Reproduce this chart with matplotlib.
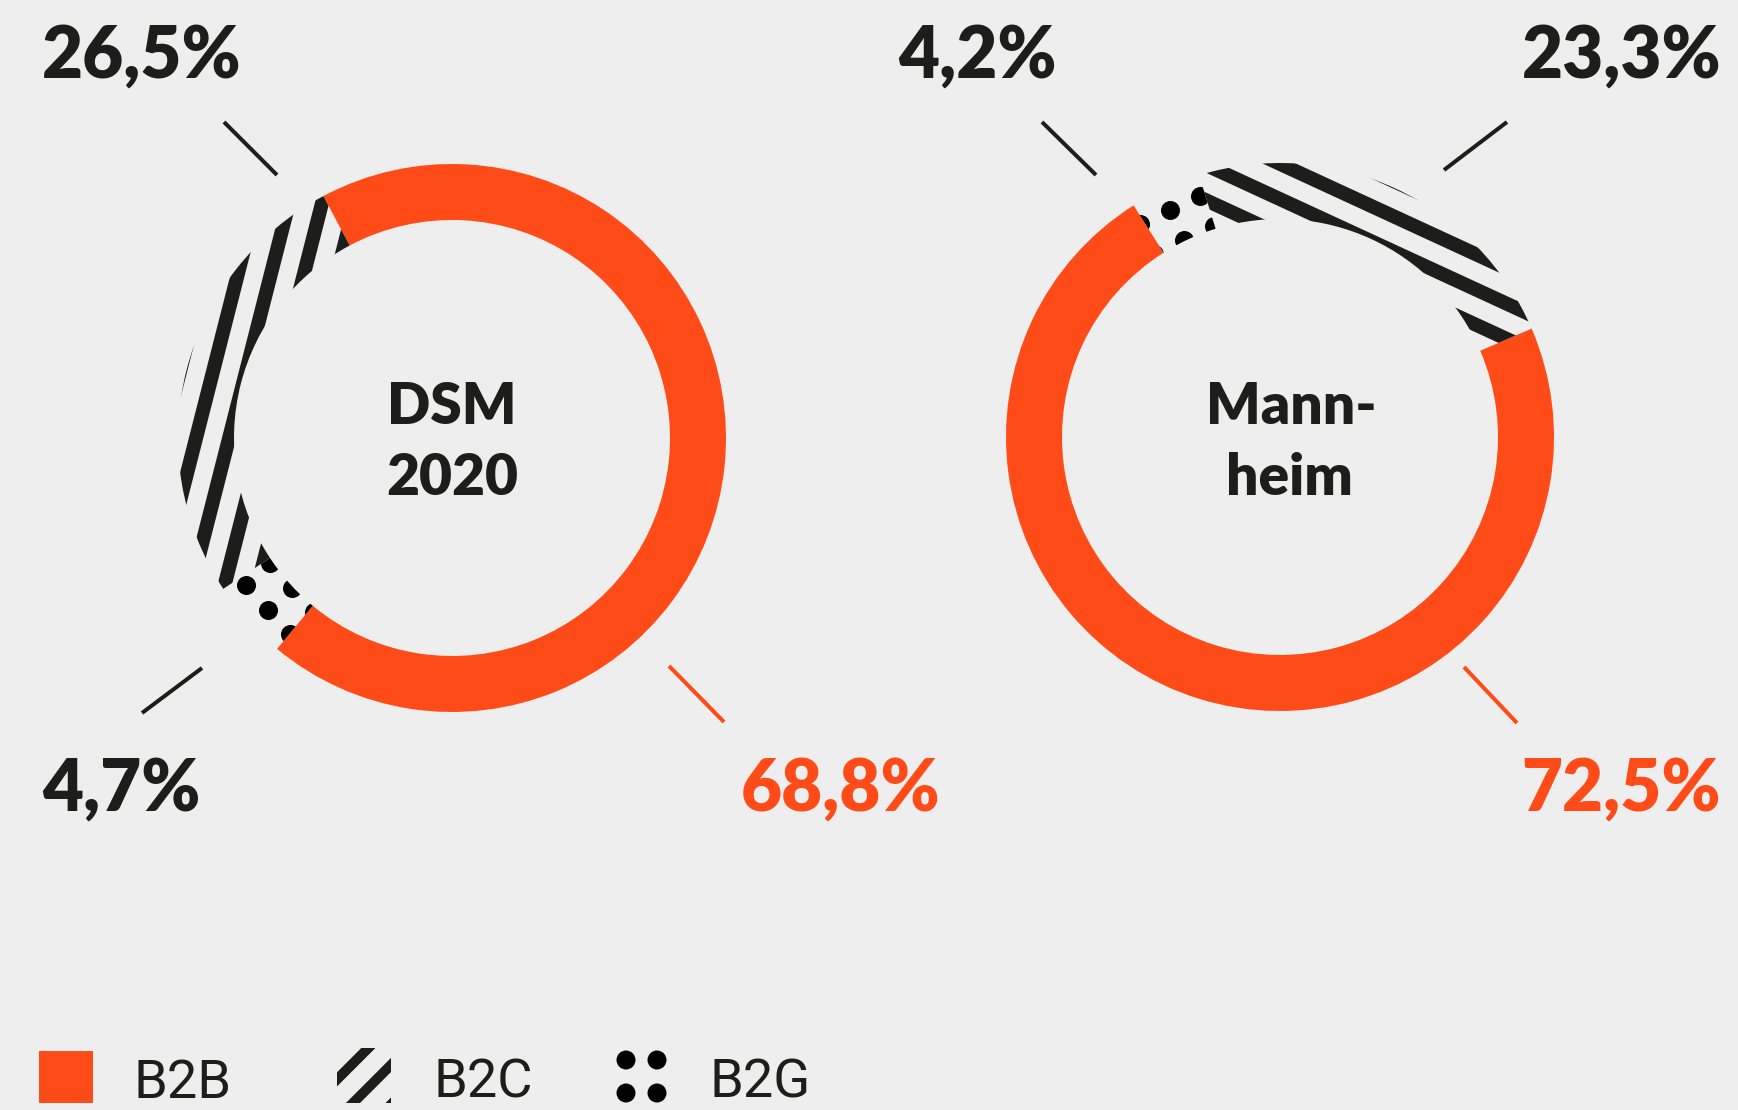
import math
import matplotlib
matplotlib.use("Agg")
import matplotlib.pyplot as plt
from matplotlib.collections import LineCollection
from matplotlib.patches import Rectangle, Circle

# ---------------- data ----------------
segments = ["B2B", "B2C", "B2G"]
dsm_values = [68.8, 26.5, 4.7]
mannheim_values = [72.5, 23.3, 4.2]
chart_titles = [["DSM", "2020"], ["Mann-", "heim"]]

# ---------------- style ----------------
W, H = 1738, 1110
DPI = 100
BG = "#eeeeee"
ORANGE = "#ff4b18"
DARK = "#1d1d1b"
PT = 72.0 / DPI

plt.rcParams['font.family'] = ['Lato', 'DejaVu Sans']

fig = plt.figure(figsize=(W / DPI, H / DPI), dpi=DPI)
fig.patch.set_facecolor(BG)
ax = fig.add_axes([0, 0, 1, 1])
ax.set_facecolor(BG)


def Y(y):
    return H - y


def fmt(v):
    return f"{v:.1f}".replace(".", ",") + "%"


def stripes(ax, patch, center, angle_deg, reach, spacing=32, width=14, phase=0.0):
    a = math.radians(angle_deg)
    d = (math.cos(a), math.sin(a))          # stripe direction
    n = (-math.sin(a), math.cos(a))         # normal
    cx, cy = center
    segs = []
    k_max = int(reach / spacing) + 2
    for k in range(-k_max, k_max + 1):
        o = k * spacing + phase
        px, py = cx + n[0] * o, cy + n[1] * o
        segs.append([(px - d[0] * reach, py - d[1] * reach),
                     (px + d[0] * reach, py + d[1] * reach)])
    lc = LineCollection(segs, colors=DARK, linewidths=width * PT, capstyle="butt")
    ax.add_collection(lc)
    lc.set_clip_path(patch)


def dots(ax, patch, center, angle_deg, reach, spacing=33, diam=19, phase=(0.0, 0.0)):
    a = math.radians(angle_deg)
    d = (math.cos(a), math.sin(a))
    n = (-math.sin(a), math.cos(a))
    cx, cy = center
    xs, ys = [], []
    k_max = int(reach / spacing) + 2
    for i in range(-k_max, k_max + 1):
        for j in range(-k_max, k_max + 1):
            u = i * spacing + phase[0]
            v = j * spacing + phase[1]
            xs.append(cx + d[0] * u + n[0] * v)
            ys.append(cy + d[1] * u + n[1] * v)
    sc = ax.scatter(xs, ys, s=(diam * PT) ** 2, color="black", linewidths=0)
    sc.set_clip_path(patch)


def donut(values, center, start, title, title_x, label_specs, lines):
    cx, cy = center
    order = [0, 2, 1]  # B2B, B2G, B2C clockwise
    vals = [values[i] for i in order]
    cols = [ORANGE, "none", "none"]
    wedges, _ = ax.pie(vals, colors=cols, startangle=start, counterclock=False,
                       radius=274, center=(cx, Y(cy)),
                       wedgeprops=dict(width=56, linewidth=0), frame=False)
    for w, idx in zip(wedges, order):
        mid = (w.theta1 + w.theta2) / 2.0
        if segments[idx] == "B2C":
            stripes(ax, w, (cx, Y(cy)), mid + 90, 320, phase=8)
        elif segments[idx] == "B2G":
            dots(ax, w, (cx, Y(cy)), mid + 90, 320, phase=(5, 12))
    # center title
    for (txt, tx, ty) in zip(title, title_x, (424, 495)):
        ax.text(tx, Y(ty), txt, ha="center", va="baseline", fontsize=41,
                fontweight="heavy", color=DARK)
    # labels
    for (idx, x, y, ha) in label_specs:
        color = ORANGE if segments[idx] == "B2B" else DARK
        ax.text(x, Y(y), fmt(values[idx]), ha=ha, va="baseline", fontsize=51,
                fontweight="heavy", color=color)
    for (idx, (x1, y1, x2, y2)) in lines:
        color = ORANGE if segments[idx] == "B2B" else DARK
        ax.plot([x1, x2], [Y(y1), Y(y2)], color=color, lw=4 * PT,
                solid_capstyle="butt")


donut(dsm_values, (452, 438), 118, chart_titles[0], (452, 452),
      [(1, 42, 78, "left"), (2, 42, 811, "left"), (0, 940, 811, "right")],
      [(1, (224, 122, 277, 175)), (2, (142, 713, 202, 668)), (0, (669, 666, 724, 722))])

donut(mannheim_values, (1280, 437), 23.3, chart_titles[1], (1291, 1289),
      [(2, 898, 78, "left"), (1, 1721, 78, "right"), (0, 1721, 811, "right")],
      [(2, (1042, 122, 1096, 175)), (1, (1444, 170, 1507, 122)), (0, (1464, 667, 1517, 723))])

# ---------------- legend ----------------
LEG_BASE = 1098
LEG_FONT = ["Roboto", "DejaVu Sans"]
sq = Rectangle((39, Y(1103)), 54, 52, facecolor=ORANGE, edgecolor="none")
ax.add_patch(sq)
ax.text(133, Y(LEG_BASE), segments[0], ha="left", va="baseline", fontsize=39,
        family=LEG_FONT, color=DARK)

sq2 = Rectangle((337, Y(1103)), 54, 55, facecolor="none", edgecolor="none")
ax.add_patch(sq2)
stripes(ax, sq2, (364, Y(1075)), 45, 60, spacing=28, width=10, phase=-12)
ax.text(434, Y(LEG_BASE), segments[1], ha="left", va="baseline", fontsize=39,
        family=LEG_FONT, color=DARK)

for (dx, dy) in [(626, 1060), (657, 1060), (626, 1093), (657, 1093)]:
    ax.add_patch(Circle((dx, Y(dy)), 9.5, facecolor="black", edgecolor="none"))
ax.text(709, Y(LEG_BASE), segments[2], ha="left", va="baseline", fontsize=39,
        family=LEG_FONT, color=DARK)

ax.set_xlim(0, W)
ax.set_ylim(0, H)
ax.set_aspect("auto")
ax.axis("off")

fig.savefig("out.png", dpi=DPI, facecolor=BG)
